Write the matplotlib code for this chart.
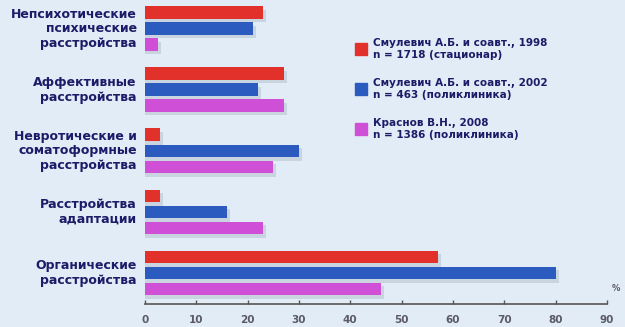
import numpy as np
import matplotlib.pyplot as plt

# ---------------------- data ----------------------
categories = ["Непсихотические\nпсихические\nрасстройства",
              "Аффективные\nрасстройства",
              "Невротические и\nсоматоформные\nрасстройства",
              "Расстройства\nадаптации",
              "Органические\nрасстройства"]
smulevich_1998 = [23, 27, 3, 3, 57]
smulevich_2002 = [21, 22, 30, 16, 80]
krasnov_2008 = [2.5, 27, 25, 23, 46]
series_labels = ["Смулевич А.Б. и соавт., 1998\nn = 1718 (стационар)",
                 "Смулевич А.Б. и соавт., 2002\nn = 463 (поликлиника)",
                 "Краснов В.Н., 2008\nn = 1386 (поликлиника)"]
x_ticks = list(range(0, 100, 10))

colors = ["#e2302a", "#2b5bbf", "#cf4fd6"]
navy = "#1b1b68"
bg = "#e2ecf6"

# ---------------------- figure ----------------------
fig = plt.figure(figsize=(6.25, 3.27), dpi=100, facecolor=bg)
ax = fig.add_axes([0.232, 0.0703, 0.739, 0.921])
ax.set_facecolor(bg)

group_step = 61 / 16
series = [smulevich_1998, smulevich_2002, krasnov_2008]
for k, (vals, c) in enumerate(zip(series, colors)):
    ys = np.arange(len(categories)) * group_step + k
    # soft shadow
    ax.barh(ys + 0.2, np.array(vals) + 0.6, height=0.8, color="#9aa8b8",
            alpha=0.35, zorder=1)
    ax.barh(ys, vals, height=0.8, color=c, zorder=2)

ax.set_ylim(18.19, -0.625)
ax.set_xlim(0, 90)

for g, name in enumerate(categories):
    ax.text(-1.6, g * group_step + 1, name, ha="right", va="center",
            fontsize=9, fontweight="bold", color=navy, linespacing=1.15)

for s in ["top", "right", "left"]:
    ax.spines[s].set_visible(False)
ax.spines["bottom"].set_color("#555555")
ax.spines["bottom"].set_linewidth(1.2)
ax.set_yticks([])
ax.set_xticks(x_ticks)
ax.tick_params(axis="x", length=3, width=1, color="#555555", direction="in",
               labelsize=7.5, labelcolor="#5a5a6a", pad=8)
for lbl in ax.get_xticklabels():
    lbl.set_fontweight("bold")
ax.text(91, 17.2, "%", fontsize=6, color="#5a5a6a", fontweight="bold",
        ha="left", va="center", clip_on=False)

# legend
for i, (lab, c) in enumerate(zip(series_labels, colors)):
    yp = 1 - (49 + 40 * i) / 327
    fig.patches.append(plt.Rectangle((355 / 625, yp - 6 / 327), 12 / 625, 12 / 327,
                                     transform=fig.transFigure, color=c))
    fig.text(373 / 625, yp, lab, ha="left", va="center", fontsize=7.5,
             fontweight="bold", color=navy, linespacing=1.3)

fig.savefig("out.png", dpi=100, facecolor=bg)
